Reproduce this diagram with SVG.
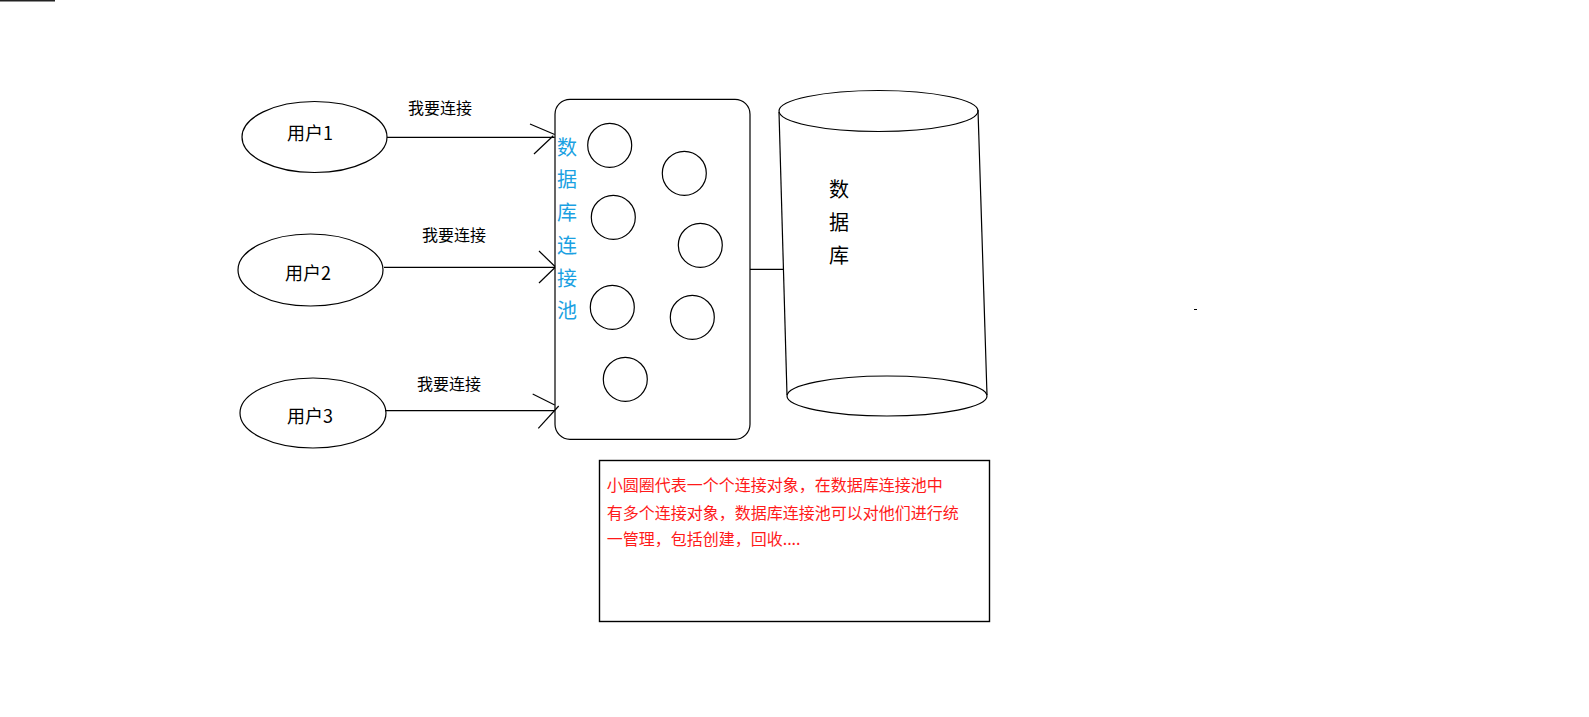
<svg xmlns="http://www.w3.org/2000/svg" width="1589" height="717" viewBox="0 0 1589 717">
<style>
.s{fill:none;stroke:#000;stroke-width:1.2}
.t{font-family:"Noto Sans CJK SC","Microsoft YaHei",sans-serif;fill:#000}
.u{font-size:18px}
.l{font-size:16px}
.b{font-size:20px;fill:#1BA1E2}
.d{font-size:20px}
.r{font-size:16px;fill:#FF1A1A}
</style>
<rect width="1589" height="717" fill="#fff"/>
<line x1="0" y1="0.8" x2="55" y2="0.8" stroke="#222" stroke-width="1.6"/>
<line x1="1194" y1="309.5" x2="1197" y2="309.5" stroke="#000" stroke-width="1"/>

<g id="user1">
<ellipse class="s" cx="314.5" cy="137" rx="72.5" ry="35.5"/>
<text class="t u" x="287" y="140">用户1</text>
</g>
<g id="user2">
<ellipse class="s" cx="310.5" cy="270" rx="72.5" ry="36"/>
<text class="t u" x="285" y="280">用户2</text>
</g>
<g id="user3">
<ellipse class="s" cx="313" cy="413" rx="73" ry="35"/>
<text class="t u" x="287" y="423">用户3</text>
</g>

<g id="pool">
<rect class="s" x="555" y="99.3" width="195" height="340" rx="15"/>
<text class="t b" x="557" y="154.6">数</text>
<text class="t b" x="557" y="186.6">据</text>
<text class="t b" x="557" y="219.6">库</text>
<text class="t b" x="557" y="252.6">连</text>
<text class="t b" x="557" y="285.6">接</text>
<text class="t b" x="557" y="317.6">池</text>
<circle class="s" cx="609.7" cy="145.3" r="22"/>
<circle class="s" cx="684.3" cy="173.3" r="22"/>
<circle class="s" cx="613.3" cy="217.3" r="22"/>
<circle class="s" cx="700.3" cy="245.3" r="22"/>
<circle class="s" cx="612.3" cy="307.3" r="22"/>
<circle class="s" cx="692.3" cy="317.3" r="22"/>
<circle class="s" cx="625.3" cy="379.3" r="22"/>
</g>

<g id="database">
<ellipse class="s" cx="878.5" cy="111" rx="99.5" ry="20.5"/>
<line class="s" x1="779" y1="112" x2="787" y2="395"/>
<line class="s" x1="978" y1="110" x2="987" y2="395"/>
<ellipse class="s" cx="887" cy="396" rx="100" ry="20"/>
<text class="t d" x="829" y="196.6">数</text>
<text class="t d" x="829" y="229.6">据</text>
<text class="t d" x="829" y="262.6">库</text>
</g>

<g id="note">
<rect x="599.5" y="460.5" width="390" height="161" fill="none" stroke="#000" stroke-width="1.4"/>
<text class="t r" x="606.7" y="491">小圆圈代表一个个连接对象，在数据库连接池中</text>
<text class="t r" x="606.7" y="518.7">有多个连接对象，数据库连接池可以对他们进行统</text>
<text class="t r" x="606.7" y="545.3">一管理，包括创建，回收....</text>
</g>

<g id="connectors">
<line class="s" x1="387" y1="137.3" x2="554.7" y2="137.3"/>
<polyline class="s" points="530,124 554.7,134.5"/>
<polyline class="s" points="534,154 553.3,135.7"/>
<text class="t l" x="408" y="114">我要连接</text>
<line class="s" x1="384" y1="267.3" x2="555" y2="267.3"/>
<polyline class="s" points="539,251 555,266.5"/>
<polyline class="s" points="539,283 555,267.5"/>
<text class="t l" x="422" y="241">我要连接</text>
<line class="s" x1="385" y1="410.7" x2="554.7" y2="410.7"/>
<polyline class="s" points="532.7,394 554.7,405"/>
<polyline class="s" points="538.3,428.3 558.7,406"/>
<text class="t l" x="417" y="390">我要连接</text>
<line class="s" x1="750" y1="269.3" x2="783.5" y2="269.3"/>
</g>
</svg>
